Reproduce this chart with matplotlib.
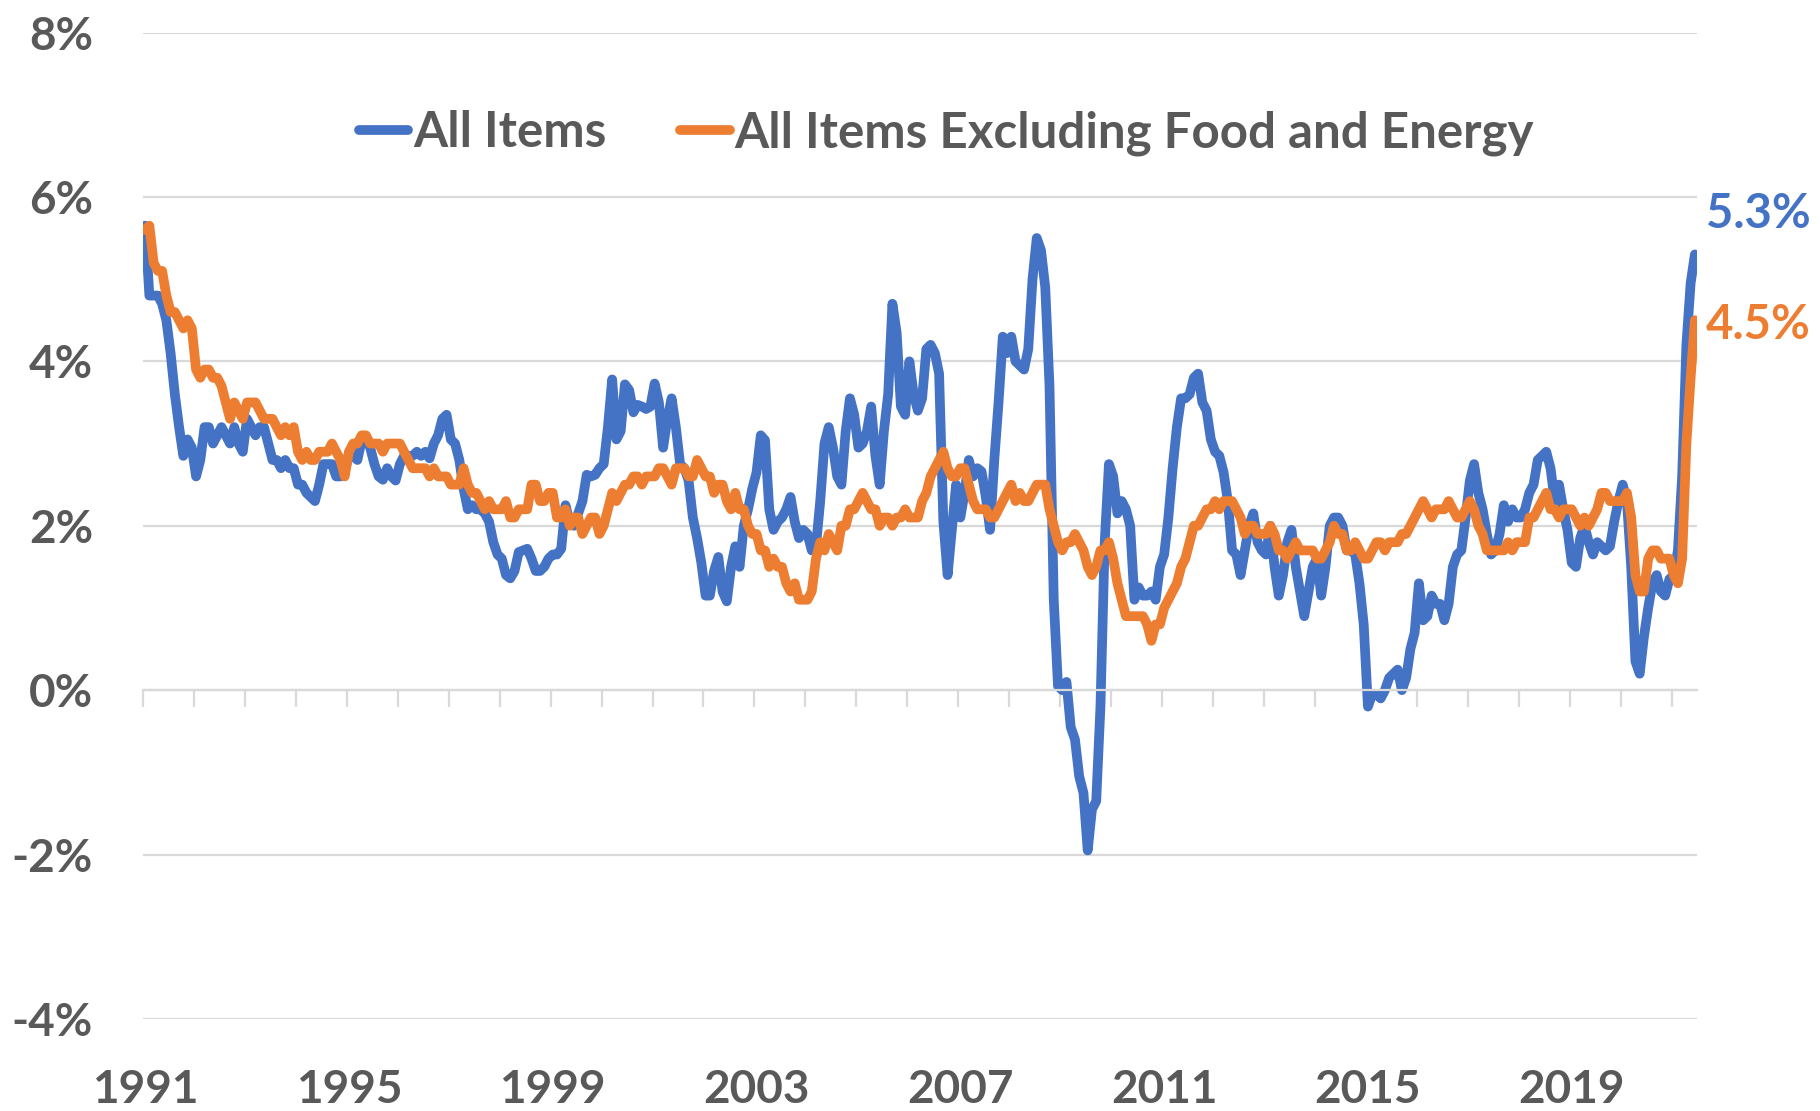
import numpy as np
import matplotlib.pyplot as plt

# CPI, variation sur 12 mois (%), mensuel janv. 1991 - juin 2021
all_items = [
    5.65, 4.8, 4.8, 4.8, 4.7, 4.5, 4.1, 3.6, 3.2, 2.85, 3.05, 2.95,      # 1991
    2.6, 2.8, 3.2, 3.2, 3.0, 3.1, 3.2, 3.1, 3.0, 3.2, 3.0, 2.9,          # 1992
    3.3, 3.2, 3.1, 3.2, 3.2, 3.0, 2.8, 2.8, 2.7, 2.8, 2.7, 2.7,          # 1993
    2.5, 2.5, 2.4, 2.35, 2.3, 2.5, 2.75, 2.75, 2.75, 2.6, 2.6, 2.65,     # 1994
    2.88, 2.85, 2.8, 3.04, 3.06, 2.95, 2.75, 2.6, 2.56, 2.7, 2.6, 2.55,  # 1995
    2.75, 2.85, 2.85, 2.85, 2.9, 2.85, 2.9, 2.82, 3.0, 3.1, 3.3, 3.35,   # 1996
    3.05, 3.0, 2.8, 2.45, 2.2, 2.25, 2.2, 2.2, 2.15, 2.05, 1.8, 1.65,    # 1997
    1.6, 1.4, 1.36, 1.45, 1.68, 1.7, 1.72, 1.6, 1.45, 1.45, 1.5, 1.6,    # 1998
    1.65, 1.65, 1.72, 2.25, 2.05, 2.0, 2.15, 2.3, 2.62, 2.6, 2.62, 2.7,  # 1999
    2.75, 3.2, 3.78, 3.05, 3.15, 3.72, 3.65, 3.38, 3.47, 3.45, 3.42, 3.45,  # 2000
    3.73, 3.5, 2.95, 3.3, 3.55, 3.2, 2.75, 2.7, 2.55, 2.1, 1.85, 1.55,   # 2001
    1.15, 1.15, 1.45, 1.62, 1.2, 1.08, 1.5, 1.75, 1.5, 2.0, 2.2, 2.45,   # 2002
    2.65, 3.1, 3.04, 2.2, 1.95, 2.05, 2.1, 2.2, 2.35, 2.05, 1.85, 1.95,  # 2003
    1.9, 1.7, 1.75, 2.3, 3.0, 3.2, 2.95, 2.6, 2.5, 3.15, 3.55, 3.35,     # 2004
    2.95, 3.0, 3.15, 3.45, 2.85, 2.5, 3.15, 3.6, 4.7, 4.35, 3.45, 3.35,  # 2005
    4.0, 3.6, 3.4, 3.55, 4.15, 4.2, 4.1, 3.85, 2.05, 1.4, 1.95, 2.5,     # 2006
    2.1, 2.4, 2.8, 2.6, 2.7, 2.66, 2.35, 1.95, 2.8, 3.5, 4.3, 4.1,       # 2007
    4.3, 4.0, 3.95, 3.9, 4.15, 5.0, 5.5, 5.35, 4.9, 3.7, 1.1, 0.05,      # 2008
    0.0, 0.1, -0.45, -0.6, -1.05, -1.25, -1.95, -1.45, -1.35, -0.2, 1.8, 2.75,  # 2009
    2.6, 2.15, 2.3, 2.2, 2.0, 1.1, 1.25, 1.15, 1.15, 1.2, 1.1, 1.5,      # 2010
    1.65, 2.1, 2.7, 3.2, 3.55, 3.55, 3.6, 3.8, 3.85, 3.5, 3.4, 3.05,     # 2011
    2.9, 2.85, 2.65, 2.3, 1.7, 1.65, 1.4, 1.7, 2.0, 2.15, 1.8, 1.7,      # 2012
    1.65, 2.0, 1.5, 1.15, 1.4, 1.8, 1.95, 1.5, 1.2, 0.9, 1.2, 1.5,       # 2013
    1.6, 1.15, 1.5, 2.0, 2.1, 2.1, 2.0, 1.7, 1.7, 1.65, 1.3, 0.8,        # 2014
    -0.2, -0.05, -0.05, -0.1, 0.0, 0.15, 0.2, 0.25, 0.0, 0.15, 0.5, 0.7,  # 2015
    1.3, 0.85, 0.9, 1.15, 1.05, 1.05, 0.85, 1.05, 1.5, 1.65, 1.7, 2.1,   # 2016
    2.55, 2.75, 2.4, 2.2, 1.9, 1.65, 1.7, 1.9, 2.25, 2.05, 2.2, 2.1,     # 2017
    2.1, 2.2, 2.4, 2.5, 2.8, 2.85, 2.9, 2.7, 2.3, 2.5, 2.2, 1.95,        # 2018
    1.55, 1.5, 1.85, 2.0, 1.8, 1.65, 1.8, 1.75, 1.7, 1.75, 2.05, 2.3,    # 2019
    2.5, 2.3, 1.5, 0.35, 0.2, 0.65, 1.0, 1.3, 1.4, 1.2, 1.15, 1.35,      # 2020
    1.4, 1.7, 2.6, 4.2, 4.95, 5.3,                                       # 2021
]

core = [
    5.6, 5.65, 5.2, 5.1, 5.1, 4.8, 4.6, 4.6, 4.5, 4.4, 4.5, 4.4,   # 1991
    3.9, 3.8, 3.9, 3.9, 3.8, 3.8, 3.7, 3.5, 3.3, 3.5, 3.4, 3.3,    # 1992
    3.5, 3.5, 3.5, 3.4, 3.3, 3.3, 3.3, 3.2, 3.1, 3.2, 3.1, 3.2,    # 1993
    2.9, 2.8, 2.9, 2.8, 2.8, 2.9, 2.9, 2.9, 3.0, 2.9, 2.8, 2.6,    # 1994
    2.9, 3.0, 3.0, 3.1, 3.1, 3.0, 3.0, 3.0, 2.9, 3.0, 3.0, 3.0,    # 1995
    3.0, 2.9, 2.8, 2.7, 2.7, 2.7, 2.7, 2.6, 2.7, 2.6, 2.6, 2.6,    # 1996
    2.5, 2.5, 2.5, 2.7, 2.5, 2.4, 2.4, 2.3, 2.2, 2.3, 2.2, 2.2,    # 1997
    2.2, 2.3, 2.1, 2.1, 2.2, 2.2, 2.2, 2.5, 2.5, 2.3, 2.3, 2.4,    # 1998
    2.4, 2.1, 2.1, 2.2, 2.0, 2.1, 2.1, 1.9, 2.0, 2.1, 2.1, 1.9,    # 1999
    2.0, 2.2, 2.4, 2.3, 2.4, 2.5, 2.5, 2.6, 2.6, 2.5, 2.6, 2.6,    # 2000
    2.6, 2.7, 2.7, 2.6, 2.5, 2.7, 2.7, 2.7, 2.6, 2.6, 2.8, 2.7,    # 2001
    2.6, 2.6, 2.4, 2.5, 2.5, 2.3, 2.2, 2.4, 2.2, 2.2, 2.0, 1.9,    # 2002
    1.9, 1.7, 1.7, 1.5, 1.6, 1.5, 1.5, 1.3, 1.2, 1.3, 1.1, 1.1,    # 2003
    1.1, 1.2, 1.6, 1.8, 1.7, 1.9, 1.8, 1.7, 2.0, 2.0, 2.2, 2.2,    # 2004
    2.3, 2.4, 2.3, 2.2, 2.2, 2.0, 2.1, 2.1, 2.0, 2.1, 2.1, 2.2,    # 2005
    2.1, 2.1, 2.1, 2.3, 2.4, 2.6, 2.7, 2.8, 2.9, 2.7, 2.6, 2.6,    # 2006
    2.7, 2.7, 2.5, 2.3, 2.2, 2.2, 2.2, 2.1, 2.1, 2.2, 2.3, 2.4,    # 2007
    2.5, 2.3, 2.4, 2.3, 2.3, 2.4, 2.5, 2.5, 2.5, 2.2, 2.0, 1.8,    # 2008
    1.7, 1.8, 1.8, 1.9, 1.8, 1.7, 1.5, 1.4, 1.5, 1.7, 1.7, 1.8,    # 2009
    1.6, 1.3, 1.1, 0.9, 0.9, 0.9, 0.9, 0.9, 0.8, 0.6, 0.8, 0.8,    # 2010
    1.0, 1.1, 1.2, 1.3, 1.5, 1.6, 1.8, 2.0, 2.0, 2.1, 2.2, 2.2,    # 2011
    2.3, 2.2, 2.3, 2.3, 2.3, 2.2, 2.1, 1.9, 2.0, 2.0, 1.9, 1.9,    # 2012
    1.9, 2.0, 1.9, 1.7, 1.7, 1.6, 1.7, 1.8, 1.7, 1.7, 1.7, 1.7,    # 2013
    1.6, 1.6, 1.7, 1.8, 2.0, 1.9, 1.9, 1.7, 1.7, 1.8, 1.7, 1.6,    # 2014
    1.6, 1.7, 1.8, 1.8, 1.7, 1.8, 1.8, 1.8, 1.9, 1.9, 2.0, 2.1,    # 2015
    2.2, 2.3, 2.2, 2.1, 2.2, 2.2, 2.2, 2.3, 2.2, 2.1, 2.1, 2.2,    # 2016
    2.3, 2.2, 2.0, 1.9, 1.7, 1.7, 1.7, 1.7, 1.7, 1.8, 1.7, 1.8,    # 2017
    1.8, 1.8, 2.1, 2.1, 2.2, 2.3, 2.4, 2.2, 2.2, 2.1, 2.2, 2.2,    # 2018
    2.2, 2.1, 2.0, 2.1, 2.0, 2.1, 2.2, 2.4, 2.4, 2.3, 2.3, 2.3,    # 2019
    2.3, 2.4, 2.1, 1.4, 1.2, 1.2, 1.6, 1.7, 1.7, 1.6, 1.6, 1.6,    # 2020
    1.4, 1.3, 1.6, 3.0, 3.8, 4.5,                                  # 2021
]

series_names = ['All Items', 'All Items Excluding Food and Energy']
colors = ['#4472C4', '#ED7D31']
first_year = 1991
label_years = [1991, 1995, 1999, 2003, 2007, 2011, 2015, 2019]
y_ticks = [-4, -2, 0, 2, 4, 6, 8]

gray = '#595959'
grid_col = '#d9d9d9'
plt.rcParams['font.family'] = ['Lato', 'DejaVu Sans']
plt.rcParams['font.weight'] = 'bold'
fs = 33

n = len(all_items)
x = np.arange(n)

fig = plt.figure(figsize=(18.2, 11.11), dpi=100)
ax = fig.add_axes([143 / 1820, 1 - 1019 / 1111, 1554 / 1820, 986.5 / 1111])

for vals, name, col in zip([all_items, core], series_names, colors):
    ax.plot(x, vals, color=col, lw=7, label=name,
            solid_capstyle='round', solid_joinstyle='round')

ax.set_xlim(-0.5, n - 0.5)
ax.set_ylim(-4, 8)

# grille horizontale
ax.set_yticks(y_ticks)
ax.set_yticklabels([f'{v}%' for v in y_ticks])
ax.yaxis.grid(True, color=grid_col, lw=1.6)
ax.set_axisbelow(True)
ax.tick_params(axis='y', length=0, pad=36, labelsize=fs, labelcolor=gray)

for s in ['top', 'right', 'left']:
    ax.spines[s].set_visible(False)

# axe des x a 0 avec graduations annuelles
ax.spines['bottom'].set_position(('data', 0))
ax.spines['bottom'].set_color(grid_col)
ax.spines['bottom'].set_linewidth(1.6)
ax.set_xticks(np.arange(-0.5, n, 12))
ax.tick_params(axis='x', direction='out', length=12, width=1.6,
               color=grid_col, labelbottom=False)

# etiquettes des annees en bas
sec = ax.secondary_xaxis('bottom')
sec.set_xticks([(yr - first_year) * 12 for yr in label_years])
sec.set_xticklabels([str(yr) for yr in label_years])
sec.tick_params(length=0, pad=36, labelsize=fs, labelcolor=gray)
sec.spines['bottom'].set_visible(False)

# valeurs finales
ax.annotate(f'{all_items[-1]:.1f}%', xy=(n - 1, all_items[-1]), xytext=(11, 40),
            textcoords='offset pixels', ha='left', va='center',
            color=colors[0], fontsize=34, fontweight='bold')
ax.annotate(f'{core[-1]:.1f}%', xy=(n - 1, core[-1]), xytext=(11, -5),
            textcoords='offset pixels', ha='left', va='center',
            color=colors[1], fontsize=34, fontweight='bold')

leg = ax.legend(loc='center', bbox_to_anchor=(0.517, 0.898), ncol=2, frameon=False,
                fontsize=35.5, handlelength=1.0, handletextpad=0.1, columnspacing=1.5)
for t in leg.get_texts():
    t.set_color(gray)
    t.set_fontweight('bold')

fig.savefig('out.png', dpi=100)
